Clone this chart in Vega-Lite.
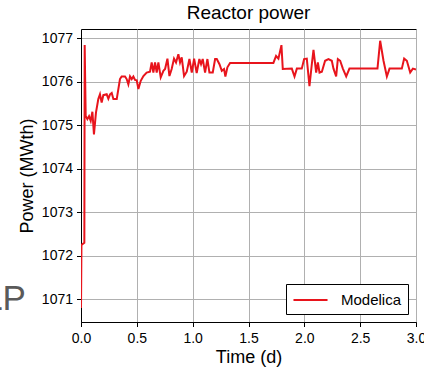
{
  "$schema": "https://vega.github.io/schema/vega-lite/v6.json",
  "autosize": "none",
  "width": 335,
  "height": 293,
  "padding": {"left": 81, "top": 29, "right": 8, "bottom": 48},
  "title": {"text": "Reactor power", "fontSize": 19, "fontWeight": "normal", "font": "Liberation Sans", "offset": 6, "color": "#000"},
  "config": {
    "font": "Liberation Sans",
    "view": {"stroke": "#000", "strokeWidth": 1},
    "axis": {
      "domainColor": "#000", "tickColor": "#000", "tickSize": 4.5, "labelColor": "#000", "titleColor": "#000",
      "labelFontSize": 14, "titleFontSize": 18, "titleFontWeight": "normal",
      "gridColor": "#b0b0b0", "gridWidth": 1, "labelPadding": 4, "labelFlush": false, "labelOverlap": false
    },
    "legend": {
      "orient": "bottom-right", "offset": 8, "strokeColor": "#000", "fillColor": "#fff", "padding": 6,
      "cornerRadius": 0, "labelFontSize": 15, "labelColor": "#000", "symbolStrokeWidth": 2,
      "symbolType": "M-2,0L2,0", "symbolSize": 290, "symbolOffset": 8.5, "labelOffset": 20.5, "title": null
    }
  },
  "layer": [
    {
      "data": {"values": [
        {"t": 0, "p": 1070.8, "s": "Modelica"},
        {"t": 0.004, "p": 1072.25, "s": "Modelica"},
        {"t": 0.030, "p": 1072.3, "s": "Modelica"},
        {"t": 0.033, "p": 1076.84, "s": "Modelica"},
        {"t": 0.042, "p": 1075.21, "s": "Modelica"},
        {"t": 0.057, "p": 1075.14, "s": "Modelica"},
        {"t": 0.072, "p": 1075.21, "s": "Modelica"},
        {"t": 0.087, "p": 1075.10, "s": "Modelica"},
        {"t": 0.102, "p": 1075.31, "s": "Modelica"},
        {"t": 0.116, "p": 1074.79, "s": "Modelica"},
        {"t": 0.134, "p": 1075.29, "s": "Modelica"},
        {"t": 0.155, "p": 1075.60, "s": "Modelica"},
        {"t": 0.170, "p": 1075.71, "s": "Modelica"},
        {"t": 0.185, "p": 1075.52, "s": "Modelica"},
        {"t": 0.200, "p": 1075.69, "s": "Modelica"},
        {"t": 0.230, "p": 1075.71, "s": "Modelica"},
        {"t": 0.245, "p": 1075.61, "s": "Modelica"},
        {"t": 0.260, "p": 1075.71, "s": "Modelica"},
        {"t": 0.275, "p": 1075.74, "s": "Modelica"},
        {"t": 0.290, "p": 1075.60, "s": "Modelica"},
        {"t": 0.320, "p": 1075.60, "s": "Modelica"},
        {"t": 0.349, "p": 1076.06, "s": "Modelica"},
        {"t": 0.364, "p": 1076.12, "s": "Modelica"},
        {"t": 0.394, "p": 1076.12, "s": "Modelica"},
        {"t": 0.409, "p": 1076.06, "s": "Modelica"},
        {"t": 0.424, "p": 1075.94, "s": "Modelica"},
        {"t": 0.439, "p": 1076.12, "s": "Modelica"},
        {"t": 0.454, "p": 1076.06, "s": "Modelica"},
        {"t": 0.469, "p": 1076.12, "s": "Modelica"},
        {"t": 0.484, "p": 1076.04, "s": "Modelica"},
        {"t": 0.499, "p": 1076.03, "s": "Modelica"},
        {"t": 0.514, "p": 1075.83, "s": "Modelica"},
        {"t": 0.535, "p": 1076.02, "s": "Modelica"},
        {"t": 0.559, "p": 1076.13, "s": "Modelica"},
        {"t": 0.588, "p": 1076.21, "s": "Modelica"},
        {"t": 0.618, "p": 1076.23, "s": "Modelica"},
        {"t": 0.633, "p": 1076.44, "s": "Modelica"},
        {"t": 0.648, "p": 1076.21, "s": "Modelica"},
        {"t": 0.663, "p": 1076.44, "s": "Modelica"},
        {"t": 0.678, "p": 1076.21, "s": "Modelica"},
        {"t": 0.693, "p": 1076.44, "s": "Modelica"},
        {"t": 0.714, "p": 1076.10, "s": "Modelica"},
        {"t": 0.738, "p": 1076.25, "s": "Modelica"},
        {"t": 0.753, "p": 1076.29, "s": "Modelica"},
        {"t": 0.774, "p": 1076.53, "s": "Modelica"},
        {"t": 0.792, "p": 1076.13, "s": "Modelica"},
        {"t": 0.812, "p": 1076.29, "s": "Modelica"},
        {"t": 0.833, "p": 1076.53, "s": "Modelica"},
        {"t": 0.851, "p": 1076.44, "s": "Modelica"},
        {"t": 0.872, "p": 1076.63, "s": "Modelica"},
        {"t": 0.887, "p": 1076.44, "s": "Modelica"},
        {"t": 0.902, "p": 1076.56, "s": "Modelica"},
        {"t": 0.923, "p": 1076.13, "s": "Modelica"},
        {"t": 0.947, "p": 1076.23, "s": "Modelica"},
        {"t": 0.971, "p": 1076.52, "s": "Modelica"},
        {"t": 0.992, "p": 1076.21, "s": "Modelica"},
        {"t": 1.013, "p": 1076.53, "s": "Modelica"},
        {"t": 1.036, "p": 1076.20, "s": "Modelica"},
        {"t": 1.060, "p": 1076.52, "s": "Modelica"},
        {"t": 1.075, "p": 1076.40, "s": "Modelica"},
        {"t": 1.090, "p": 1076.52, "s": "Modelica"},
        {"t": 1.111, "p": 1076.21, "s": "Modelica"},
        {"t": 1.132, "p": 1076.52, "s": "Modelica"},
        {"t": 1.150, "p": 1076.21, "s": "Modelica"},
        {"t": 1.180, "p": 1076.21, "s": "Modelica"},
        {"t": 1.201, "p": 1076.52, "s": "Modelica"},
        {"t": 1.216, "p": 1076.52, "s": "Modelica"},
        {"t": 1.240, "p": 1076.40, "s": "Modelica"},
        {"t": 1.261, "p": 1076.25, "s": "Modelica"},
        {"t": 1.281, "p": 1076.29, "s": "Modelica"},
        {"t": 1.293, "p": 1076.12, "s": "Modelica"},
        {"t": 1.311, "p": 1076.33, "s": "Modelica"},
        {"t": 1.335, "p": 1076.43, "s": "Modelica"},
        {"t": 1.723, "p": 1076.43, "s": "Modelica"},
        {"t": 1.747, "p": 1076.59, "s": "Modelica"},
        {"t": 1.768, "p": 1076.53, "s": "Modelica"},
        {"t": 1.795, "p": 1076.84, "s": "Modelica"},
        {"t": 1.807, "p": 1076.29, "s": "Modelica"},
        {"t": 1.888, "p": 1076.30, "s": "Modelica"},
        {"t": 1.912, "p": 1076.12, "s": "Modelica"},
        {"t": 1.933, "p": 1076.30, "s": "Modelica"},
        {"t": 1.977, "p": 1076.30, "s": "Modelica"},
        {"t": 1.998, "p": 1076.52, "s": "Modelica"},
        {"t": 2.022, "p": 1076.53, "s": "Modelica"},
        {"t": 2.046, "p": 1075.90, "s": "Modelica"},
        {"t": 2.067, "p": 1076.40, "s": "Modelica"},
        {"t": 2.082, "p": 1076.73, "s": "Modelica"},
        {"t": 2.106, "p": 1076.21, "s": "Modelica"},
        {"t": 2.121, "p": 1076.44, "s": "Modelica"},
        {"t": 2.136, "p": 1076.21, "s": "Modelica"},
        {"t": 2.157, "p": 1076.23, "s": "Modelica"},
        {"t": 2.186, "p": 1076.48, "s": "Modelica"},
        {"t": 2.216, "p": 1076.52, "s": "Modelica"},
        {"t": 2.246, "p": 1076.48, "s": "Modelica"},
        {"t": 2.261, "p": 1076.30, "s": "Modelica"},
        {"t": 2.285, "p": 1076.12, "s": "Modelica"},
        {"t": 2.300, "p": 1076.52, "s": "Modelica"},
        {"t": 2.321, "p": 1076.48, "s": "Modelica"},
        {"t": 2.345, "p": 1076.30, "s": "Modelica"},
        {"t": 2.375, "p": 1076.12, "s": "Modelica"},
        {"t": 2.404, "p": 1076.30, "s": "Modelica"},
        {"t": 2.655, "p": 1076.30, "s": "Modelica"},
        {"t": 2.679, "p": 1076.94, "s": "Modelica"},
        {"t": 2.709, "p": 1076.48, "s": "Modelica"},
        {"t": 2.739, "p": 1076.12, "s": "Modelica"},
        {"t": 2.763, "p": 1076.30, "s": "Modelica"},
        {"t": 2.873, "p": 1076.30, "s": "Modelica"},
        {"t": 2.894, "p": 1076.53, "s": "Modelica"},
        {"t": 2.918, "p": 1076.48, "s": "Modelica"},
        {"t": 2.948, "p": 1076.21, "s": "Modelica"},
        {"t": 2.972, "p": 1076.30, "s": "Modelica"},
        {"t": 3.0, "p": 1076.28, "s": "Modelica"}
      ]},
      "mark": {"type": "line", "strokeWidth": 2, "clip": true, "interpolate": "linear"},
      "encoding": {
        "x": {"field": "t", "type": "quantitative", "title": "Time (d)",
              "scale": {"domain": [0, 3], "nice": false, "zero": false},
              "axis": {"values": [0, 0.5, 1, 1.5, 2, 2.5, 3], "format": ".1f", "titlePadding": 3, "labelPadding": 5}},
        "y": {"field": "p", "type": "quantitative", "title": "Power (MWth)",
              "scale": {"domain": [1070.48, 1077.21], "nice": false, "zero": false},
              "axis": {"values": [1071, 1072, 1073, 1074, 1075, 1076, 1077], "format": "d", "titlePadding": 5, "labelPadding": 4}},
        "color": {"field": "s", "type": "nominal", "scale": {"range": ["#e8141c"]}, "legend": {"title": null}}
      }
    },
    {
      "data": {"values": [{"label": "LP", "t": -0.493, "p": 1070.75}]},
      "mark": {"type": "text", "fontSize": 35, "color": "#5a5a5a", "align": "right", "baseline": "alphabetic", "font": "Liberation Sans"},
      "encoding": {
        "text": {"field": "label"},
        "x": {"field": "t", "type": "quantitative"},
        "y": {"field": "p", "type": "quantitative"}
      }
    }
  ]
}
